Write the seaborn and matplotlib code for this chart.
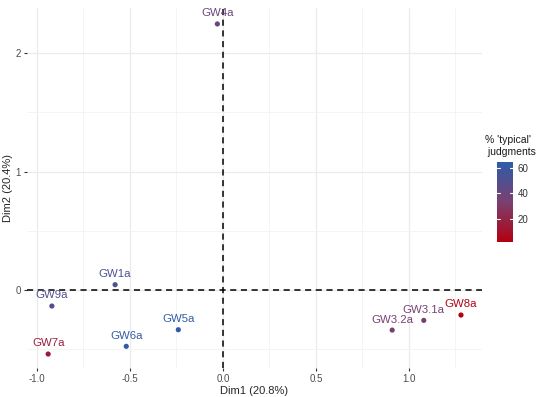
import pandas as pd
import matplotlib
matplotlib.use("Agg")
import matplotlib.pyplot as plt
import seaborn as sns
import numpy as np
from matplotlib.colors import LinearSegmentedColormap, Normalize
from matplotlib.cm import ScalarMappable

# data
labels = ["GW4a", "GW1a", "GW9a", "GW7a", "GW6a", "GW5a", "GW3.2a", "GW3.1a", "GW8a"]
dim1 = [-0.03, -0.58, -0.92, -0.94, -0.52, -0.24, 0.91, 1.08, 1.28]
dim2 = [2.245, 0.045, -0.135, -0.54, -0.475, -0.335, -0.338, -0.256, -0.211]
typical = [40, 52, 50, 17, 63, 64, 34, 35, 2]

df = pd.DataFrame({"label": labels, "Dim1": dim1, "Dim2": dim2, "typical": typical})

sns.set_theme(style="whitegrid")
plt.rcParams['font.family'] = ['Liberation Sans', 'DejaVu Sans']

cmap = LinearSegmentedColormap.from_list("rb", ["#B3000F", "#7A4070", "#2E5CA8"])
norm = Normalize(vmin=1.5, vmax=64.7)

fig = plt.figure(figsize=(5.5, 3.97), dpi=100)
ax = fig.add_axes([0.049, 0.073, 0.827, 0.907])

sns.scatterplot(data=df, x="Dim1", y="Dim2", hue="typical", palette=cmap,
                hue_norm=norm, s=14, edgecolor="none", legend=False, ax=ax, zorder=3)

for _, r in df.iterrows():
    ax.annotate(r["label"], (r["Dim1"], r["Dim2"]), xytext=(0, 4), textcoords="offset points",
                ha="center", va="bottom", fontsize=8.2, color=cmap(norm(r["typical"])))

ax.axhline(0, color="black", ls=(0, (4, 3)), lw=1.1, zorder=2)
ax.axvline(0, color="black", ls=(0, (4, 3)), lw=1.1, zorder=2)

ax.set_xlim(-1.054, 1.392)
ax.set_ylim(-0.658, 2.38)
ax.set_xticks([-1.0, -0.5, 0.0, 0.5, 1.0])
ax.set_xticklabels(["-1.0", "-0.5", "0.0", "0.5", "1.0"])
ax.set_yticks([0, 1, 2])
ax.set_xticks([-0.75, -0.25, 0.25, 0.75, 1.25], minor=True)
ax.set_yticks([-0.5, 0.5, 1.5], minor=True)
ax.grid(which="major", color="#EBEBEB", lw=0.9)
ax.grid(which="minor", color="#F3F3F3", lw=0.6)
for s in ax.spines.values():
    s.set_visible(False)
ax.tick_params(axis="both", which="major", length=2.5, width=0.8, color="#333333",
               labelsize=7, labelcolor="#4D4D4D", pad=2, bottom=True, left=True)
ax.tick_params(which="minor", length=0)
ax.set_xlabel("Dim1 (20.8%)", fontsize=8, labelpad=1)
ax.set_ylabel("Dim2 (20.4%)", fontsize=8, labelpad=2)

# colorbar
cax = fig.add_axes([0.904, 0.390, 0.029, 0.2015])
cb = fig.colorbar(ScalarMappable(norm=norm, cmap=cmap), cax=cax)
cb.set_ticks([20, 40, 60])
cb.outline.set_visible(False)
cax.tick_params(length=0, labelsize=7, labelcolor="#333333", pad=3)
for t in [20, 40, 60]:
    cax.plot([0, 0.2], [t, t], color="white", lw=0.8, transform=cax.get_yaxis_transform())
    cax.plot([0.8, 1.0], [t, t], color="white", lw=0.8, transform=cax.get_yaxis_transform())
fig.text(0.882, 0.605, "% 'typical'\n judgments", fontsize=7.5, ha="left", va="bottom", color="#1a1a1a")

fig.savefig("out.png", dpi=100)
